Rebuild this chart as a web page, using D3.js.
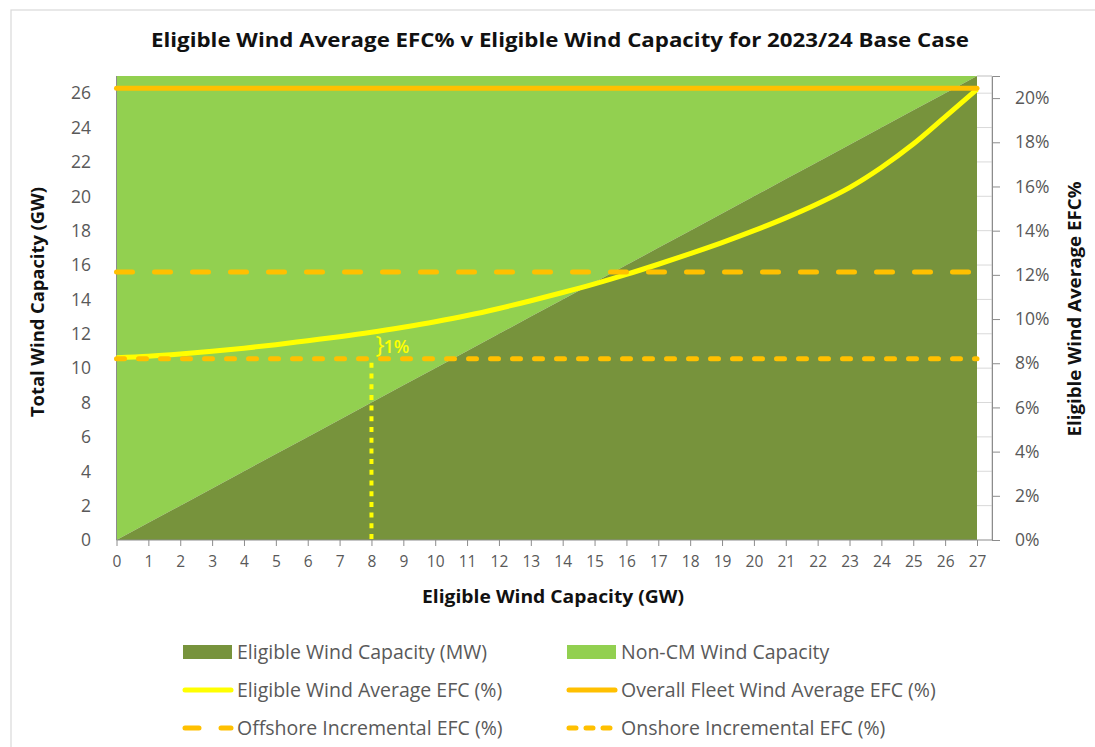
<!DOCTYPE html>
<html>
<body style="margin:0;background:#fff">

<script src="https://d3js.org/d3.v7.min.js"></script>
<style>
  text { font-family: "Open Sans", "Noto Sans", sans-serif; }
</style>

<script>

// chart data
var capacityGW   = [0,1,2,3,4,5,6,7,8,9,10,11,12,13,14,15,16,17,18,19,20,21,22,23,24,25,26,27];
var eligibleGW   = [0,1,2,3,4,5,6,7,8,9,10,11,12,13,14,15,16,17,18,19,20,21,22,23,24,25,26,27];
var totalGW      = [27,27,27,27,27,27,27,27,27,27,27,27,27,27,27,27,27,27,27,27,27,27,27,27,27,27,27,27];
var eligibleEFC  = [8.25,8.32,8.42,8.54,8.68,8.84,9.02,9.20,9.40,9.63,9.88,10.16,10.48,10.83,11.20,11.59,12.02,12.48,12.96,13.46,14.00,14.58,15.22,15.95,16.86,17.92,19.15,20.40];
var fleetAvgEFC  = 20.45;
var offshoreEFC  = 12.13;
var onshoreEFC   = 8.2;
var markerGW     = 8;
var markerLabel  = "1%";

var leftTicks  = [0,2,4,6,8,10,12,14,16,18,20,22,24,26];
var rightTicks = [0,2,4,6,8,10,12,14,16,18,20];

var legendItems = [
  {name: "Eligible Wind Capacity (MW)",        kind: "box",  color: "#77933C"},
  {name: "Non-CM Wind Capacity",               kind: "box",  color: "#92D050"},
  {name: "Eligible Wind Average EFC (%)",      kind: "line", color: "#FFFF00", dash: null},
  {name: "Overall Fleet Wind Average EFC (%)", kind: "line", color: "#FFC000", dash: null},
  {name: "Offshore Incremental EFC (%)",       kind: "line", color: "#FFC000", dash: "14,22"},
  {name: "Onshore Incremental EFC (%)",        kind: "line", color: "#FFC000", dash: "7,10"}
];

var W = 1095, H = 747;
var plot = {left: 116.5, right: 992, top: 76, bottom: 540};

var svg = d3.select("body").append("svg")
            .attr("width", W)
            .attr("height", H);

// outer chart frame
svg.append("rect")
   .attr("x", 11).attr("y", 10)
   .attr("width", W + 20).attr("height", H + 20)
   .attr("fill", "none").attr("stroke", "#d9d9d9").attr("stroke-width", 1.2);

var x = d3.scaleLinear().domain([0, 27]).range([plot.left, 977]);
var yL = d3.scaleLinear().domain([0, 27]).range([plot.bottom, plot.top]);
var yR = d3.scaleLinear().domain([0, 21]).range([plot.bottom, plot.top]);

var rows = capacityGW.map(function(c, i) {
  return {c: c, elig: eligibleGW[i], total: totalGW[i], efc: eligibleEFC[i]};
});

// gridlines (only show in the gap on the right)
svg.append("g")
   .selectAll("line")
   .data(leftTicks.slice(1)).enter()
   .append("line")
   .attr("x1", plot.left).attr("x2", plot.right)
   .attr("y1", function(d){ return yL(d); })
   .attr("y2", function(d){ return yL(d); })
   .attr("stroke", "#d9d9d9").attr("stroke-width", 1);

// stacked areas
var areaEligible = d3.area()
  .x(function(d){ return x(d.c); })
  .y0(function(d){ return yL(0); })
  .y1(function(d){ return yL(d.elig); });

var areaNonCM = d3.area()
  .x(function(d){ return x(d.c); })
  .y0(function(d){ return yL(d.elig); })
  .y1(function(d){ return yL(d.total); });

svg.append("path").datum(rows).attr("d", areaNonCM).attr("fill", "#92D050");
svg.append("path").datum(rows).attr("d", areaEligible).attr("fill", "#77933C");

// plot area border
svg.append("path")
   .attr("d", "M" + 977 + "," + plot.top + "H" + plot.right + "V" + plot.bottom)
   .attr("fill", "none").attr("stroke", "#bfbfbf").attr("stroke-width", 1);

// left axis (line only)
svg.append("line")
   .attr("x1", plot.left).attr("x2", plot.left)
   .attr("y1", plot.top).attr("y2", plot.bottom)
   .attr("stroke", "#8c8c8c").attr("stroke-width", 1);

svg.append("g")
   .selectAll("text")
   .data(leftTicks).enter()
   .append("text")
   .attr("x", 91)
   .attr("y", function(d){ return yL(d); })
   .attr("dy", "0.36em")
   .attr("text-anchor", "end")
   .attr("font-size", 17.5)
   .attr("fill", "#595959")
   .text(function(d){ return d; });

// x axis
var xAxis = d3.axisBottom(x)
              .tickValues(capacityGW)
              .tickSize(6)
              .tickFormat(d3.format("d"));

var gx = svg.append("g")
   .attr("transform", "translate(0," + plot.bottom + ")")
   .call(xAxis);
gx.select(".domain").attr("stroke", "#8c8c8c").attr("d", "M" + plot.left + ",0H" + plot.right);
gx.selectAll(".tick line").attr("stroke", "#8c8c8c");
gx.selectAll(".tick text")
  .attr("y", 16)
  .attr("font-size", 15.5)
  .attr("font-family", "Open Sans, sans-serif")
  .attr("fill", "#595959");

// right axis
var rightAxis = d3.axisRight(yR)
                  .tickValues(rightTicks)
                  .tickSize(8)
                  .tickFormat(function(d){ return d + "%"; });

var gr = svg.append("g")
   .attr("transform", "translate(" + plot.right + ",0)")
   .call(rightAxis);
gr.select(".domain").attr("stroke", "#8c8c8c");
gr.selectAll(".tick line").attr("stroke", "#8c8c8c");
gr.selectAll(".tick text")
  .attr("x", 23)
  .attr("font-size", 17.5)
  .attr("font-family", "Open Sans, sans-serif")
  .attr("fill", "#595959");

// yellow eligible EFC curve
var line = d3.line()
  .x(function(d){ return x(d.c); })
  .y(function(d){ return yR(d.efc); })
  .curve(d3.curveMonotoneX);

svg.append("path").datum(rows)
   .attr("d", line)
   .attr("fill", "none")
   .attr("stroke", "#FFFF00")
   .attr("stroke-width", 5);

// horizontal reference lines
function hline(v, dash, lw) {
  svg.append("line")
     .attr("x1", x(0)).attr("x2", x(27))
     .attr("y1", yR(v)).attr("y2", yR(v))
     .attr("stroke", "#FFC000")
     .attr("stroke-width", lw)
     .attr("stroke-linecap", "round")
     .attr("stroke-dasharray", dash);
}
hline(fleetAvgEFC, null, 5);
hline(offshoreEFC, "16,22", 5);
hline(onshoreEFC, "8,14", 5);

// dotted marker at 8 GW
svg.append("line")
   .attr("x1", x(markerGW)).attr("x2", x(markerGW))
   .attr("y1", yR(onshoreEFC) + 4).attr("y2", plot.bottom)
   .attr("stroke", "#FFFF00")
   .attr("stroke-width", 4)
   .attr("stroke-dasharray", "5,5.7");

svg.append("text")
   .attr("x", x(markerGW) + 4)
   .attr("y", 353)
   .attr("font-size", 24)
   .attr("fill", "#FFFF00")
   .text("}");
svg.append("text")
   .attr("x", x(markerGW) + 12)
   .attr("y", 353)
   .attr("font-size", 18)
   .attr("font-weight", "600")
   .attr("fill", "#FFFF00")
   .text(markerLabel);

// titles
svg.append("text")
   .attr("x", 560).attr("y", 47)
   .attr("text-anchor", "middle")
   .attr("font-size", 19)
   .attr("font-weight", "bold")
   .attr("fill", "#111")
   .attr("textLength", 818).attr("lengthAdjust", "spacingAndGlyphs")
   .text("Eligible Wind Average EFC% v Eligible Wind Capacity for 2023/24 Base Case");

svg.append("text")
   .attr("x", 553).attr("y", 603)
   .attr("text-anchor", "middle")
   .attr("font-size", 17)
   .attr("font-weight", "bold")
   .attr("fill", "#111")
   .attr("textLength", 262).attr("lengthAdjust", "spacingAndGlyphs")
   .text("Eligible Wind Capacity (GW)");

svg.append("text")
   .attr("transform", "translate(44,302) rotate(-90)")
   .attr("text-anchor", "middle")
   .attr("font-size", 17)
   .attr("font-weight", "bold")
   .attr("fill", "#111")
   .attr("textLength", 230).attr("lengthAdjust", "spacingAndGlyphs")
   .text("Total Wind Capacity (GW)");

svg.append("text")
   .attr("transform", "translate(1081,309) rotate(-90)")
   .attr("text-anchor", "middle")
   .attr("font-size", 17)
   .attr("font-weight", "bold")
   .attr("fill", "#111")
   .attr("textLength", 255).attr("lengthAdjust", "spacingAndGlyphs")
   .text("Eligible Wind Average EFC%");

// legend
var lg = svg.append("g");
var items = lg.selectAll("g")
   .data(legendItems).enter()
   .append("g")
   .attr("transform", function(d, i){
     return "translate(" + (i % 2 ? 567 : 183) + "," + (652 + Math.floor(i / 2) * 38) + ")";
   });

items.filter(function(d){ return d.kind == "box"; })
   .append("rect")
   .attr("x", 0).attr("y", -7).attr("width", 49).attr("height", 14)
   .attr("fill", function(d){ return d.color; });

items.filter(function(d){ return d.kind == "line"; })
   .append("line")
   .attr("x1", 2).attr("x2", 48).attr("y1", 0).attr("y2", 0)
   .attr("stroke", function(d){ return d.color; })
   .attr("stroke-width", 5)
   .attr("stroke-linecap", "round")
   .attr("stroke-dasharray", function(d){ return d.dash; });

items.append("text")
   .attr("x", 54).attr("dy", "0.36em")
   .attr("font-size", 19.5)
   .attr("fill", "#595959")
   .text(function(d){ return d.name; });

</script>
</body>
</html>
